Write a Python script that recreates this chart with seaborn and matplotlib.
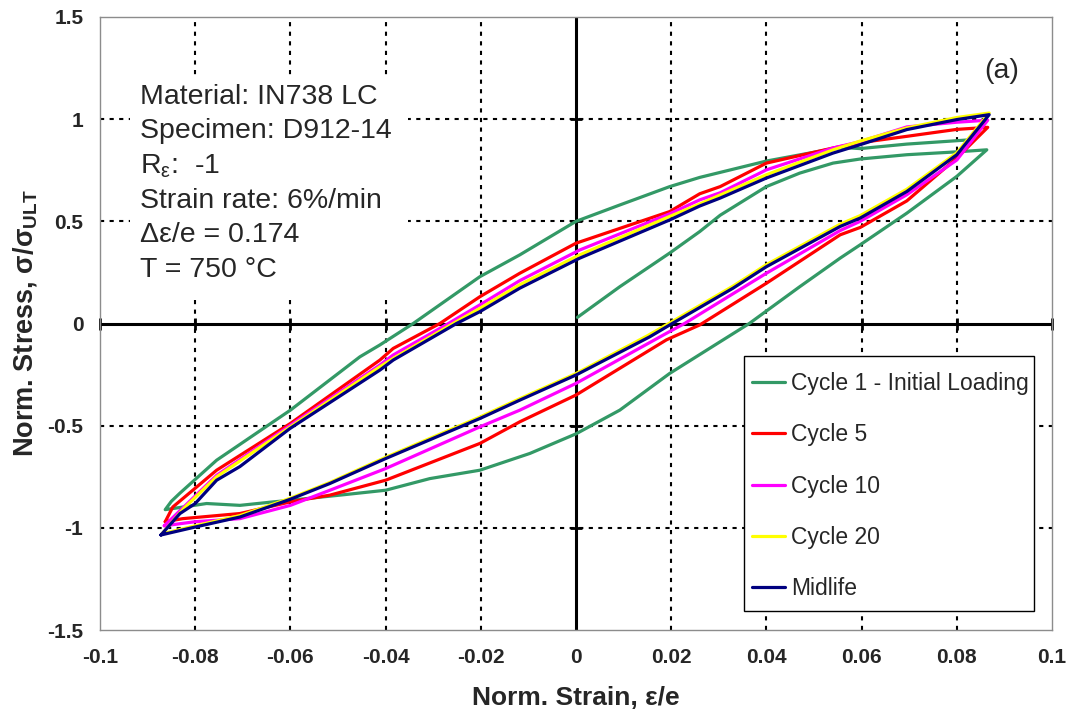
import matplotlib
matplotlib.use("Agg")
import matplotlib.pyplot as plt
import seaborn as sns
import pandas as pd
from matplotlib.patches import Rectangle

# ---------------- data ----------------
series_names = ["Cycle 1 - Initial Loading", "Cycle 5", "Cycle 10", "Cycle 20", "Midlife"]
series_colors = ["#339966", "#FF0000", "#FF00FF", "#FFFF00", "#000080"]

# Cycle 1: initial loading, unloading, reloading
c1_x = [0.0003, 0.0092, 0.0197, 0.0260, 0.0303, 0.0400, 0.0470, 0.0540, 0.0597, 0.0695, 0.0800, 0.0863,
        0.0800, 0.0695, 0.0597, 0.0555, 0.0470, 0.0364, 0.0303, 0.0197, 0.0092, 0.0000, -0.0097, -0.0202,
        -0.0307, -0.0400, -0.0496, -0.0600, -0.0636, -0.0706, -0.0776, -0.0825, -0.0863,
        -0.0850, -0.0832, -0.0755, -0.0600, -0.0454, -0.0412, -0.0342, -0.0202, -0.0118, 0.0000, 0.0092,
        0.0197, 0.0260, 0.0400, 0.0555, 0.0597, 0.0695, 0.0834]
c1_y = [0.03, 0.18, 0.345, 0.45, 0.53, 0.67, 0.736, 0.785, 0.805, 0.826, 0.84, 0.85,
        0.72, 0.54, 0.385, 0.32, 0.18, 0.0, -0.089, -0.244, -0.424, -0.54, -0.636, -0.718,
        -0.759, -0.816, -0.84, -0.865, -0.873, -0.89, -0.881, -0.898, -0.911,
        -0.87, -0.83, -0.669, -0.424, -0.163, -0.105, 0.0, 0.229, 0.336, 0.50, 0.58,
        0.67, 0.715, 0.795, 0.862, 0.856, 0.878, 0.90]

# Cycle 5
c5_x = [-0.0863, -0.0847, -0.0755, -0.0600, -0.0412, -0.0384, -0.0286, -0.0202, -0.0118, 0.0000, 0.0197,
        0.0260, 0.0303, 0.0400, 0.0540, 0.0597, 0.0695, 0.0800, 0.0865,
        0.0800, 0.0695, 0.0597, 0.0555, 0.0400, 0.0260, 0.0190, 0.0000, -0.0118, -0.0202, -0.0400,
        -0.0517, -0.0600, -0.0706, -0.0826, -0.0863]
c5_y = [-0.97, -0.898, -0.718, -0.489, -0.179, -0.122, 0.0, 0.131, 0.246, 0.393, 0.548,
        0.635, 0.67, 0.785, 0.859, 0.885, 0.916, 0.95, 0.96,
        0.81, 0.60, 0.47, 0.434, 0.197, -0.007, -0.08, -0.35, -0.481, -0.587, -0.767,
        -0.84, -0.873, -0.93, -0.955, -0.97]

# Cycle 10
c10_x = [-0.0865, -0.0755, -0.0600, -0.0412, -0.0384, -0.0268, -0.0202, -0.0118, 0.0008, 0.0197, 0.0260,
         0.0303, 0.0400, 0.0540, 0.0597, 0.0695, 0.0800, 0.0865,
         0.0800, 0.0695, 0.0597, 0.0555, 0.0400, 0.0228, 0.0190, 0.0000, -0.0118, -0.0202, -0.0400,
         -0.0517, -0.0600, -0.0706, -0.0800, -0.0865]
c10_y = [-0.99, -0.743, -0.498, -0.203, -0.154, 0.0, 0.091, 0.21, 0.36, 0.537, 0.605,
         0.64, 0.752, 0.859, 0.89, 0.962, 0.985, 0.995,
         0.80, 0.63, 0.50, 0.455, 0.246, 0.0, -0.048, -0.293, -0.424, -0.506, -0.71,
         -0.816, -0.89, -0.955, -0.97, -0.99]

# Cycle 20
c20_x = [-0.0870, -0.0824, -0.0755, -0.0600, -0.0412, -0.0384, -0.0258, -0.0202, -0.0118, 0.0008, 0.0197,
         0.0260, 0.0400, 0.0540, 0.0597, 0.0695, 0.0800, 0.0868,
         0.0800, 0.0695, 0.0597, 0.0555, 0.0400, 0.0330, 0.0195, 0.0150, 0.0000, -0.0118, -0.0202,
         -0.0400, -0.0517, -0.0600, -0.0706, -0.0800, -0.0870]
c20_y = [-1.03, -0.905, -0.75, -0.506, -0.212, -0.171, 0.0, 0.074, 0.19, 0.336, 0.524,
         0.585, 0.728, 0.85, 0.893, 0.957, 1.008, 1.03,
         0.835, 0.657, 0.528, 0.486, 0.288, 0.183, 0.0, -0.06, -0.245, -0.368, -0.458,
         -0.655, -0.778, -0.855, -0.94, -0.99, -1.03]

# Midlife
mid_x = [-0.0872, -0.0832, -0.0800, -0.0755, -0.0706, -0.0601, -0.0412, -0.0384, -0.0251, -0.0202, -0.0118,
         0.0008, 0.0197, 0.0260, 0.0303, 0.0400, 0.0540, 0.0597, 0.0695, 0.0800, 0.0868,
         0.0800, 0.0695, 0.0597, 0.0555, 0.0400, 0.0330, 0.0197, 0.0155, 0.0000, -0.0118, -0.0202,
         -0.0400, -0.0517, -0.0600, -0.0706, -0.0800, -0.0872]
mid_y = [-1.035, -0.93, -0.881, -0.767, -0.70, -0.514, -0.228, -0.179, 0.0, 0.058, 0.173,
         0.32, 0.507, 0.575, 0.614, 0.712, 0.834, 0.875, 0.949, 0.998, 1.022,
         0.826, 0.646, 0.516, 0.475, 0.278, 0.173, -0.007, -0.065, -0.252, -0.375, -0.465,
         -0.661, -0.783, -0.86, -0.947, -0.996, -1.035]

x_ticks = [-0.1, -0.08, -0.06, -0.04, -0.02, 0.0, 0.02, 0.04, 0.06, 0.08, 0.1]
x_tick_labels = ["-0.1", "-0.08", "-0.06", "-0.04", "-0.02", "0", "0.02", "0.04", "0.06", "0.08", "0.1"]
y_ticks = [-1.5, -1.0, -0.5, 0.0, 0.5, 1.0, 1.5]
y_tick_labels = ["-1.5", "-1", "-0.5", "0", "0.5", "1", "1.5"]

ann_lines = ["Material: IN738 LC", "Specimen: D912-14", r"R$_{\mathrm{ε}}$:  -1",
             "Strain rate: 6%/min", "Δε/e = 0.174", "T = 750 °C"]
panel_label = "(a)"
x_label = "Norm. Strain, ε/e"
y_label = r"Norm. Stress, σ/σ$_{\mathbf{ULT}}$"

# ---------------- styling ----------------
sns.set_theme(style="white")
plt.rcParams["font.family"] = ["Liberation Sans", "DejaVu Sans"]
plt.rcParams["mathtext.fontset"] = "custom"
plt.rcParams["mathtext.rm"] = "Liberation Sans"
plt.rcParams["mathtext.it"] = "Liberation Sans:italic"
plt.rcParams["mathtext.bf"] = "Liberation Sans:bold"

fig = plt.figure(figsize=(10.68, 7.17), dpi=100)
fig.patch.set_facecolor("white")
ax = fig.add_axes([100 / 1068, 87 / 717, 952 / 1068, 613 / 717])
ax.set_facecolor("white")

xs_all = [c1_x, c5_x, c10_x, c20_x, mid_x]
ys_all = [c1_y, c5_y, c10_y, c20_y, mid_y]
for name, color, xs, ys in zip(series_names, series_colors, xs_all, ys_all):
    df = pd.DataFrame({"strain": xs, "stress": ys})
    sns.lineplot(data=df, x="strain", y="stress", sort=False, estimator=None,
                 color=color, linewidth=2.3, label=name, ax=ax, zorder=3)

ax.set_xlim(-0.1, 0.1)
ax.set_ylim(-1.5, 1.5)

# dotted grid (inner lines only)
grid_style = dict(color="black", linewidth=1.5, linestyle=(0, (2, 2.6)), zorder=0.5)
for xv in x_ticks:
    if xv not in (x_ticks[0], x_ticks[-1], 0.0):
        ax.axvline(xv, **grid_style)
for yv in y_ticks:
    if yv not in (y_ticks[0], y_ticks[-1], 0.0):
        ax.axhline(yv, **grid_style)

# white box behind annotation
ax.add_patch(Rectangle((0.0315, 0.5465), 0.292, 0.3585, transform=ax.transAxes,
                       facecolor="white", edgecolor="none", zorder=1))

# zero axes with tick marks
ax.axhline(0, color="black", linewidth=2.2, zorder=2)
ax.axvline(0, color="black", linewidth=2.2, zorder=2)
ax.plot(x_ticks, [0] * len(x_ticks), linestyle="none", marker="|", markersize=9,
        markeredgewidth=2, color="black", zorder=2, clip_on=False)
ax.plot([0] * len(y_ticks[1:-1]), y_ticks[1:-1], linestyle="none", marker="_", markersize=9,
        markeredgewidth=2, color="black", zorder=2, clip_on=False)

ax.set_xticks(x_ticks)
ax.set_xticklabels(x_tick_labels, fontsize=15, fontweight="bold")
ax.set_yticks(y_ticks)
ax.set_yticklabels(y_tick_labels, fontsize=15, fontweight="bold")
ax.tick_params(axis="x", length=0, pad=13)
ax.tick_params(axis="y", length=0, pad=12)

for sp in ax.spines.values():
    sp.set_color("#8c8c8c")
    sp.set_linewidth(1.0)
    sp.set_linestyle((0, (2, 1)))

ax.set_xlabel(x_label, fontsize=19, fontweight="bold")
ax.xaxis.set_label_coords(0.5, -0.092)
ax.set_ylabel(y_label, fontsize=19.5, fontweight="bold")
ax.yaxis.set_label_coords(-0.064, 0.5)

# annotation
y0 = 0.870
for i, line in enumerate(ann_lines):
    ax.text(0.042, y0 - i * 0.0565, line, transform=ax.transAxes, fontsize=20.5,
            ha="left", va="center", zorder=4)
ax.text(0.9475, 0.912, panel_label, transform=ax.transAxes, fontsize=20.5,
        ha="center", va="center", zorder=4)

# legend frame drawn as a patch, entries placed inside it
ax.add_patch(Rectangle((0.6765, 0.031), 0.3046, 0.416, transform=ax.transAxes,
                       facecolor="white", edgecolor="black", linewidth=1.0, zorder=4.5))
leg = ax.legend(loc="upper left", bbox_to_anchor=(0.6849, 0.4205), frameon=False,
                fontsize=16.5, handlelength=1.44, handletextpad=0.26, labelspacing=1.23,
                borderpad=0, borderaxespad=0)
leg.set_zorder(5)
for lh in leg.get_lines():
    lh.set_linewidth(2.3)

fig.savefig("out.png", dpi=100, facecolor="white")
